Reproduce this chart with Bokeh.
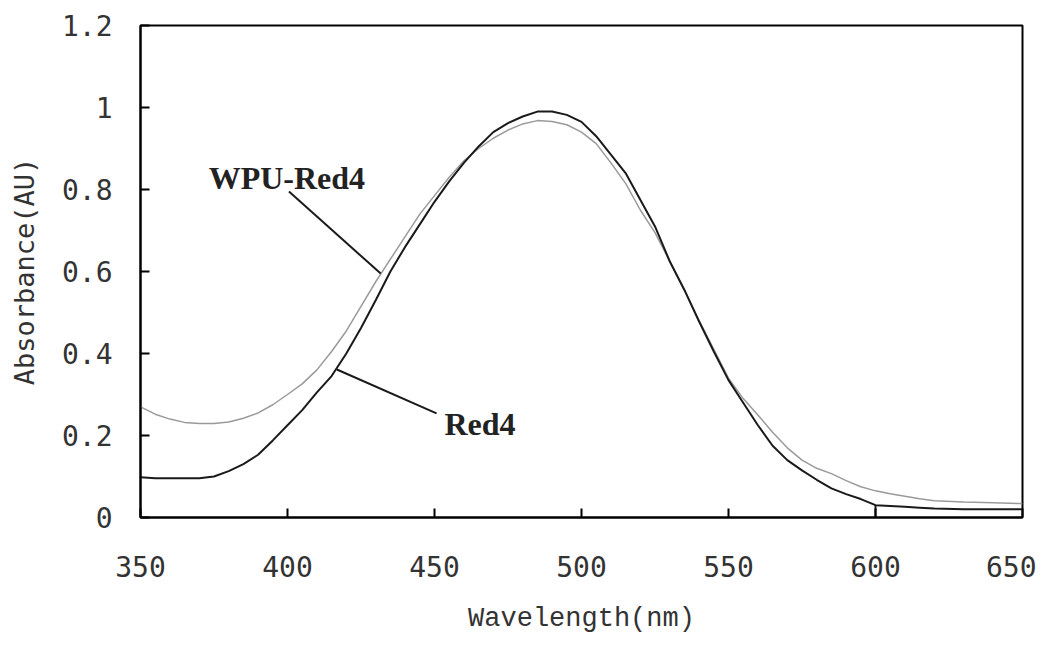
from bokeh.plotting import figure
from bokeh.models import FixedTicker, Range1d
from bokeh.core.properties import value
from bokeh.embed import file_html
from bokeh.resources import INLINE

# ---- data ----
wavelength = [350, 355, 360, 365, 370, 375, 380, 385, 390, 395, 400, 405, 410, 415, 420,
              425, 430, 435, 440, 445, 450, 455, 460, 465, 470, 475, 480, 485, 490, 495,
              500, 505, 510, 515, 520, 525, 530, 535, 540, 545, 550, 555, 560, 565, 570,
              575, 580, 585, 590, 595, 600, 605, 610, 615, 620, 630, 640, 650]

red4 = [0.098, 0.096, 0.096, 0.096, 0.096, 0.100, 0.113, 0.130, 0.153, 0.188, 0.225, 0.262,
        0.305, 0.345, 0.400, 0.462, 0.530, 0.600, 0.660, 0.715, 0.770, 0.820, 0.865, 0.905,
        0.940, 0.962, 0.978, 0.990, 0.990, 0.982, 0.965, 0.930, 0.885, 0.840, 0.775, 0.710,
        0.625, 0.555, 0.478, 0.405, 0.335, 0.280, 0.225, 0.175, 0.140, 0.115, 0.092, 0.071,
        0.057, 0.045, 0.030, 0.028, 0.026, 0.024, 0.022, 0.020, 0.020, 0.020]

wpu_red4 = [0.270, 0.252, 0.240, 0.232, 0.229, 0.229, 0.233, 0.242, 0.255, 0.275, 0.300, 0.326,
            0.360, 0.405, 0.455, 0.515, 0.575, 0.630, 0.685, 0.740, 0.785, 0.830, 0.870, 0.900,
            0.925, 0.945, 0.960, 0.968, 0.966, 0.958, 0.940, 0.912, 0.865, 0.815, 0.750, 0.695,
            0.625, 0.555, 0.480, 0.410, 0.340, 0.290, 0.250, 0.208, 0.170, 0.140, 0.120, 0.107,
            0.090, 0.075, 0.065, 0.058, 0.052, 0.046, 0.041, 0.038, 0.036, 0.034]

x_ticks = [350, 400, 450, 500, 550, 600, 650]
y_ticks = [0, 0.2, 0.4, 0.6, 0.8, 1.0, 1.2]
y_tick_labels = ["0", "0.2", "0.4", "0.6", "0.8", "1", "1.2"]

series_names = ["WPU-Red4", "Red4"]

# ---- figure ----
p = figure(width=1036, height=640, output_backend="svg", toolbar_location=None,
           x_range=Range1d(350, 650), y_range=Range1d(0, 1.2),
           min_border_left=140, min_border_right=14, min_border_top=25, min_border_bottom=123)
p.background_fill_color = "white"
p.border_fill_color = "white"
p.outline_line_color = "black"
p.outline_line_width = 2
p.xgrid.visible = False
p.ygrid.visible = False

# curves
p.line(wavelength, wpu_red4, line_color="#9a9a9a", line_width=1.5)
p.line(wavelength, red4, line_color="#1a1a1a", line_width=2)
# small vertical step in the Red4 trace at 600 nm
i600 = wavelength.index(600)
p.segment(x0=[wavelength[i600]], y0=[0], x1=[wavelength[i600]], y1=[red4[i600]],
          line_color="#1a1a1a", line_width=2)

# leader lines and labels
p.segment(x0=[400.5, 416.8], y0=[0.795, 0.361], x1=[431.7, 450.7], y1=[0.595, 0.254],
          line_color="#1a1a1a", line_width=2)
p.text(x=[399.8], y=[0.827], text=[series_names[0]], text_align="center",
       text_baseline="alphabetic", text_font=value("Liberation Serif"),
       text_font_size="32px", text_font_style="bold", text_color="#222222")
p.text(x=[453.4], y=[0.227], text=[series_names[1]], text_align="left",
       text_baseline="alphabetic", text_font=value("Liberation Serif"),
       text_font_size="32px", text_font_style="bold", text_color="#222222")

# axes
p.xaxis.ticker = FixedTicker(ticks=x_ticks)
p.yaxis.ticker = FixedTicker(ticks=y_ticks)
p.yaxis.major_label_overrides = {t: l for t, l in zip(y_ticks, y_tick_labels)}

for ax in (p.xaxis[0], p.yaxis[0]):
    ax.axis_line_color = "black"
    ax.axis_line_width = 2
    ax.major_tick_in = 9
    ax.major_tick_out = 0
    ax.major_tick_line_width = 2
    ax.major_tick_line_color = "black"
    ax.minor_tick_line_color = None
    ax.major_label_text_font = "DejaVu Sans Mono"
    ax.major_label_text_font_size = "28px"
    ax.major_label_text_color = "#333333"
    ax.axis_label_text_font_style = "normal"
    ax.axis_label_text_color = "#333333"

p.xaxis.axis_label = "Wavelength(nm)"
p.xaxis.axis_label_text_font = "Liberation Mono"
p.xaxis.axis_label_text_font_size = "27px"
p.xaxis.major_label_standoff = 38
p.xaxis.axis_label_standoff = 24

p.yaxis.axis_label = "Absorbance(AU)"
p.yaxis.axis_label_text_font = "DejaVu Sans Mono"
p.yaxis.axis_label_text_font_size = "27px"
p.yaxis.major_label_standoff = 28
p.yaxis.axis_label_standoff = 19

open("out.html", "w").write(file_html(p, INLINE))
